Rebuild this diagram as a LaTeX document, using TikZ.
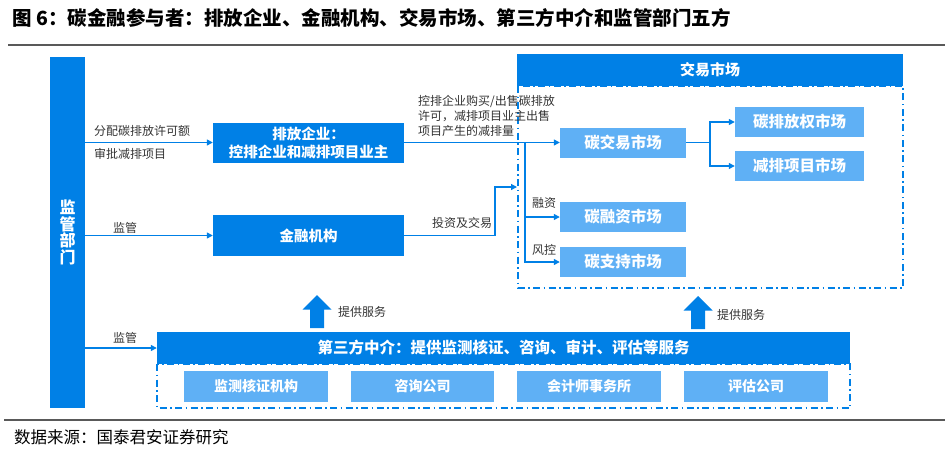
\documentclass[tikz,border=0pt]{standalone}
\usepackage{fontspec}
\setmainfont{Noto Sans CJK SC}
\usetikzlibrary{arrows.meta}
\definecolor{sblue}{RGB}{0,128,230}
\definecolor{qblue}{RGB}{95,176,245}
\definecolor{wzhui}{RGB}{51,51,51}
\begin{document}
\begin{tikzpicture}[x=1pt,y=-1pt,
  sk/.style={rectangle, fill=sblue, text=white, inner sep=0pt, font=\fontsize{15}{18}\selectfont\bfseries},
  qk/.style={rectangle, fill=qblue, text=white, inner sep=0pt, minimum height=30pt, font=\fontsize{15.5}{18}\selectfont\bfseries},
  bz/.style={text=wzhui, inner sep=0pt, anchor=west, font=\fontsize{12}{15}\selectfont},
  lx/.style={draw=sblue, line width=1.3pt, -{Triangle[length=6pt,width=6pt]}},
  xk/.style={draw=sblue, line width=1.6pt, dash pattern=on 7pt off 3.5pt on 1.5pt off 3.5pt}]
\useasboundingbox (0,0) rectangle (950,453);
\node[anchor=west, inner sep=0pt, font=\fontsize{19.5}{21}\selectfont\bfseries] (bt) at (12,18) {图 6：碳金融参与者：排放企业、金融机构、交易市场、第三方中介和监管部门五方};
\draw[gray!70!black, line width=1.2pt] (8,45) -- (945,45);
\draw[gray!70!black, line width=1.2pt] (4,420) -- (945,420);
\node[anchor=west, inner sep=0pt, font=\fontsize{16.5}{18}\selectfont] (ly) at (14,437) {数据来源：国泰君安证券研究};
\node[sk, minimum width=35pt, minimum height=351pt, align=center, font=\fontsize{16}{16.5}\selectfont\bfseries] (jgbm) at (67.5,232.5) {监\\管\\部\\门};
\node[sk, minimum width=191pt, minimum height=40pt, align=center, font=\fontsize{14.5}{18}\selectfont\bfseries] (pfqy) at (308.5,142.5) {排放企业：\\控排企业和减排项目业主};
\node[sk, minimum width=191pt, minimum height=41pt, font=\fontsize{14.5}{18}\selectfont\bfseries] (jrjg) at (308.5,235.5) {金融机构};
\draw[xk] (518,86) rectangle (903,288);
\node[sk, minimum width=386pt, minimum height=32pt] (jysc) at (710,70) {交易市场};
\node[qk, minimum width=126pt] (tjy) at (623,142.5) {碳交易市场};
\node[qk, minimum width=129pt] (pqsc) at (799.5,122) {碳排放权市场};
\node[qk, minimum width=129pt] (jpsc) at (799.5,166) {减排项目市场};
\node[qk, minimum width=126pt] (trz) at (623,217) {碳融资市场};
\node[qk, minimum width=126pt] (tzc) at (623,262) {碳支持市场};
\draw[xk] (157,364) rectangle (850,408);
\node[sk, minimum width=693pt, minimum height=32pt, font=\fontsize{15.5}{18}\selectfont\bfseries] (dsf) at (503.5,348) {第三方中介：提供监测核证、咨询、审计、评估等服务};
\node[qk, minimum width=144pt, minimum height=31pt, font=\fontsize{14}{18}\selectfont\bfseries] (jchz) at (256,386.5) {监测核证机构};
\node[qk, minimum width=143pt, minimum height=31pt, font=\fontsize{14}{18}\selectfont\bfseries] (zxgs) at (422.5,386.5) {咨询公司};
\node[qk, minimum width=144pt, minimum height=31pt, font=\fontsize{14}{18}\selectfont\bfseries] (kjs) at (589,386.5) {会计师事务所};
\node[qk, minimum width=144pt, minimum height=31pt, font=\fontsize{14}{18}\selectfont\bfseries] (pggs) at (756,386.5) {评估公司};
\fill[sblue] (310,328) -- (310,309.5) -- (302.5,309.5) -- (317,295) -- (331.5,309.5) -- (324,309.5) -- (324,328) -- cycle;
\fill[sblue] (691,329) -- (691,310.5) -- (683.5,310.5) -- (698,296) -- (712.5,310.5) -- (705,310.5) -- (705,329) -- cycle;
\node[bz] (fwz1) at (338,312) {提供服务};
\node[bz] (fwz2) at (717,315) {提供服务};
\draw[lx] (jgbm.east |- pfqy.west) -- (pfqy.west);
\node[bz] (fp) at (94,131) {分配碳排放许可额};
\node[bz] (sp) at (94,154) {审批减排项目};
\draw[lx] (jgbm.east |- jrjg.west) -- (jrjg.west);
\node[bz] (jg1) at (113,228) {监管};
\draw[lx] (jgbm.east |- dsf.west) -- (dsf.west);
\node[bz] (jg2) at (113,338) {监管};
\draw[lx] (pfqy.east) -- (tjy.west);
\node[bz, align=left] (mm) at (418,116) {控排企业购买/出售碳排放\\许可，减排项目业主出售\\项目产生的减排量};
\coordinate (fz1) at (525,142.5);
\draw[lx] (fz1) |- (trz.west);
\draw[lx] (fz1) |- (tzc.west);
\node[bz] (rz) at (532,203) {融资};
\node[bz] (fk) at (532,250) {风控};
\coordinate (rk) at (517,187);
\draw[lx] (jrjg.east) -| (495,187) -- (rk);
\node[bz] (tz) at (432,223) {投资及交易};
\coordinate (fz2) at (710,142.5);
\draw[draw=sblue, line width=1.3pt] (tjy.east) -- (fz2);
\draw[lx] (fz2) |- (pqsc.west);
\draw[lx] (fz2) |- (jpsc.west);
\end{tikzpicture}
\end{document}
